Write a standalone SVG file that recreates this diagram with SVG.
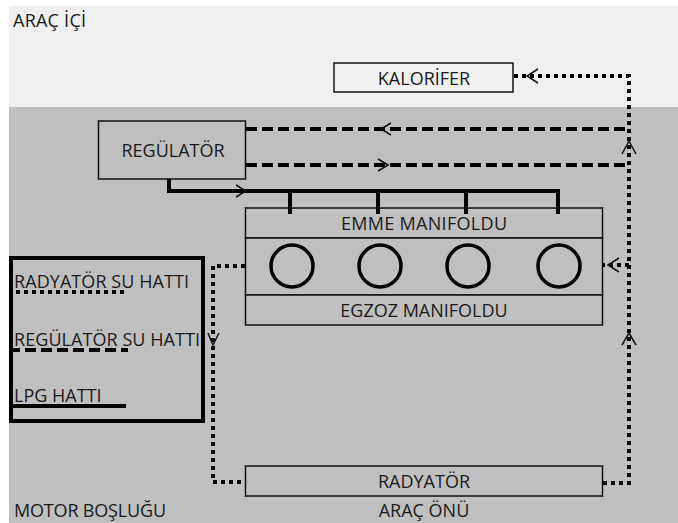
<svg xmlns="http://www.w3.org/2000/svg" width="678" height="523" viewBox="0 0 678 523">
<style>
.t{font-family:"Open Sans","Noto Sans",sans-serif;font-size:18px;fill:#1a1a1a}
.m{text-anchor:middle}
.b{fill:#bfbfbf;stroke:#111;stroke-width:1.5}
.c{fill:none;stroke:#000;stroke-width:3.5}
.dot{fill:none;stroke:#000;stroke-width:4;stroke-dasharray:4 4}
.dash{fill:none;stroke:#000;stroke-width:4;stroke-dasharray:11 5}
.solid{fill:none;stroke:#000;stroke-width:4}
.a{fill:none;stroke:#111;stroke-width:1.5}
</style>
<rect width="678" height="523" fill="#fff"/>
<rect x="9" y="6" width="669" height="101" fill="#f0f0f0"/>
<rect x="9" y="107" width="669" height="416" fill="#bfbfbf"/>
<g id="labels">
<text class="t" x="13" y="27" textLength="73">ARAÇ İÇİ</text>
<text class="t" x="14" y="517" textLength="152">MOTOR BOŞLUĞU</text>
<text class="t m" x="424" y="517">ARAÇ ÖNÜ</text>
</g>
<g id="kalorifer"><rect x="334" y="63" width="179" height="29" fill="#f0f0f0" stroke="#111" stroke-width="1.5"/><text class="t m" x="424" y="85">KALORİFER</text></g>
<g id="regulator"><rect class="b" x="98.500" y="121" width="147" height="58"/><text class="t m" x="173" y="157">REGÜLATÖR</text></g>
<g id="emme"><rect class="b" x="245.500" y="208" width="357" height="30"/><text class="t m" x="424" y="230" textLength="166">EMME MANIFOLDU</text></g>
<g id="engine"><rect class="b" x="245.500" y="238" width="357" height="57"/>
<circle class="c" cx="292" cy="266" r="21"/><circle class="c" cx="380" cy="266" r="21"/><circle class="c" cx="468" cy="266" r="21"/><circle class="c" cx="559" cy="266" r="21"/></g>
<g id="egzoz"><rect class="b" x="245.500" y="295" width="357" height="30"/><text class="t m" x="424" y="317">EGZOZ MANIFOLDU</text></g>
<g id="radyator"><rect class="b" x="245.500" y="466" width="357" height="30"/><text class="t m" x="424" y="488">RADYATÖR</text></g>
<g id="legend">
<rect x="11" y="258" width="192" height="163" fill="none" stroke="#000" stroke-width="4"/>
<text class="t" x="14" y="288" textLength="175">RADYATÖR SU HATTI</text>
<text class="t" x="14" y="346" textLength="186">REGÜLATÖR SU HATTI</text>
<text class="t" x="14" y="402">LPG HATTI</text>
<path class="dot" d="M16 292H126"/>
<path class="dash" d="M9 350H128"/>
<path class="solid" d="M12 406H126"/>
</g>
<g id="connectors">
<path class="dot" d="M603 483H629V76H514"/>
<path class="dot" d="M629 265H603"/>
<path class="dot" d="M245 266H213V482H245"/>
<path class="dash" d="M246 129H625"/>
<path class="dash" d="M246 165H625"/>
<path class="solid" d="M169 179V191H558V214"/>
<path class="solid" d="M290 191V214M378 191V214M466 191V214"/>
<path class="a" d="M538 69L527 76L538 83"/>
<path class="a" d="M622 154L629 141L636 154"/>
<path class="a" d="M391 123L381 129L391 135"/>
<path class="a" d="M378 159L388 165L378 171"/>
<path class="a" d="M236 185L246 191L236 197"/>
<path class="a" d="M619 258L608 265L619 272"/>
<path class="a" d="M622 345L629 333L636 345"/>
<path class="a" d="M208 333L213 345L219 333"/>
</g>
</svg>
